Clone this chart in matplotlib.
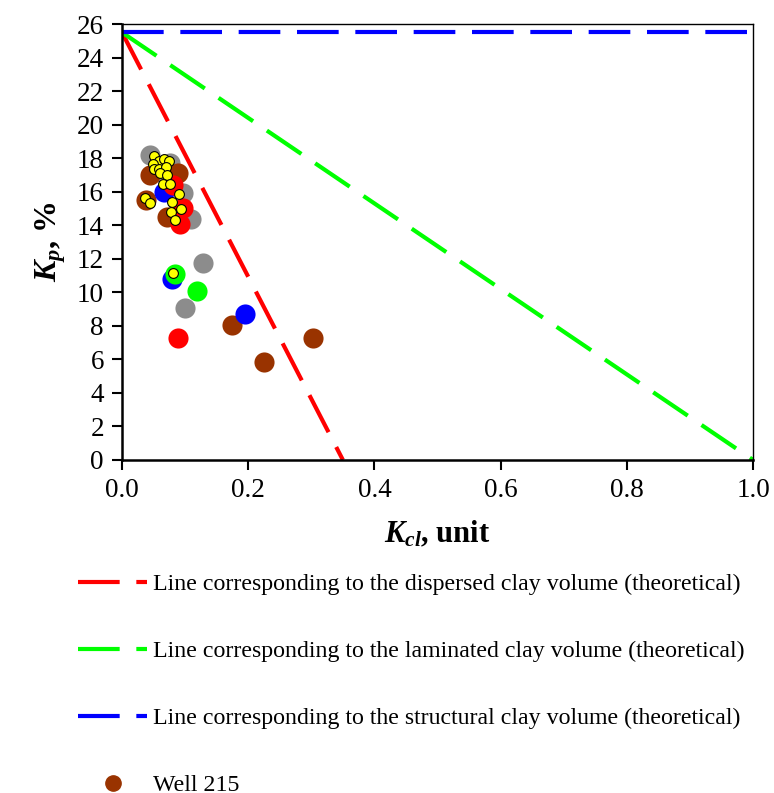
import numpy as np
import matplotlib
matplotlib.use("Agg")
import matplotlib.pyplot as plt
from matplotlib.lines import Line2D

plt.rcParams.update({
    "font.family": "Liberation Serif",
    "mathtext.fontset": "custom",
    "mathtext.it": "Liberation Serif:italic:bold",
    "mathtext.rm": "Liberation Serif:bold",
    "mathtext.bf": "Liberation Serif:bold",
})

# theoretical lines (Kcl, Kp)
KP_CLEAN = 25.5
KCL_DISPERSED_END = 0.35

# measured points, one pair of arrays per well colour
brown_x = [0.175, 0.225, 0.302, 0.044, 0.089, 0.038, 0.071]
brown_y = [8.05, 5.84, 7.27, 17.0, 17.1, 15.5, 14.5]

gray_x = [0.100, 0.129, 0.044, 0.076, 0.060, 0.097, 0.110]
gray_y = [9.06, 11.75, 18.2, 17.7, 17.2, 15.9, 14.4]

blue_x = [0.195, 0.079, 0.066]
blue_y = [8.7, 10.8, 16.0]

green_x = [0.119, 0.084]
green_y = [10.1, 11.1]

red_x = [0.089, 0.081, 0.092, 0.097]
red_y = [7.27, 16.4, 14.1, 15.0]

yellow_x = [0.081, 0.050, 0.059, 0.049, 0.066, 0.075, 0.050, 0.059, 0.070, 0.061,
            0.071, 0.065, 0.076, 0.037, 0.044, 0.091, 0.080, 0.093, 0.077, 0.084]
yellow_y = [11.15, 18.13, 17.85, 17.65, 17.93, 17.85, 17.33, 17.33, 17.5, 17.1,
            17.0, 16.46, 16.46, 15.6, 15.3, 15.86, 15.4, 14.95, 14.77, 14.3]

legend_labels = [
    "Line corresponding to the dispersed clay volume (theoretical)",
    "Line corresponding to the laminated clay volume (theoretical)",
    "Line corresponding to the structural clay volume (theoretical)",
    "Well 215",
]

fig = plt.figure(figsize=(7.74, 7.93), dpi=100)
ax = fig.add_axes([0.1576, 0.42, 0.8154, 0.5497])

dash = (10, 4)
ax.plot([0, KCL_DISPERSED_END], [KP_CLEAN, 0], color="#FF0000", lw=3, dashes=dash, zorder=2)
ax.plot([0, 1.0], [KP_CLEAN, 0], color="#00FF00", lw=3, dashes=dash, zorder=2)
ax.plot([0, 1.0], [KP_CLEAN, KP_CLEAN], color="#0000FF", lw=3, dashes=dash, zorder=2,
        clip_on=False)

big = 210
ax.scatter(gray_x, gray_y, s=big, color="#8C8C8C", lw=0, zorder=3)
ax.scatter(brown_x, brown_y, s=big, color="#993300", lw=0, zorder=4)
ax.scatter(blue_x, blue_y, s=big, color="#0000FF", lw=0, zorder=5)
ax.scatter(green_x, green_y, s=big, color="#00FF00", lw=0, zorder=6)
ax.scatter(red_x, red_y, s=big, color="#FF0000", lw=0, zorder=6)
ax.scatter(yellow_x, yellow_y, s=50, color="#FFFF00", edgecolor="black", lw=0.8, zorder=7)

ax.set_xlim(0, 1.0)
ax.set_ylim(0, 26)
ax.set_xticks(np.arange(0, 1.01, 0.2))
ax.set_xticklabels([f"{v:.1f}" for v in np.arange(0, 1.01, 0.2)])
ax.set_yticks(np.arange(0, 27, 2))
ax.tick_params(direction="out", length=7, width=1.5, labelsize=19.5, pad=6)
for s in ax.spines.values():
    s.set_linewidth(1.0)
ax.spines["left"].set_linewidth(1.8)
ax.spines["bottom"].set_linewidth(1.8)

ax.set_xlabel(r"$K_{cl}$, unit", fontsize=22, fontweight="bold", labelpad=12)
ax.set_ylabel(r"$K_p$, %", fontsize=23, fontweight="bold", labelpad=6)

handles = [
    Line2D([], [], color="#FF0000", lw=3, dashes=dash),
    Line2D([], [], color="#00FF00", lw=3, dashes=dash),
    Line2D([], [], color="#0000FF", lw=3, dashes=dash),
    Line2D([], [], color="#993300", marker="o", ms=11, lw=0),
]
fig.legend(handles, legend_labels, loc="upper left", bbox_to_anchor=(0.073, 0.304),
           frameon=False, fontsize=17.2, handlelength=2.9, handletextpad=0.22,
           labelspacing=1.9)

fig.savefig("out.png", dpi=100)
